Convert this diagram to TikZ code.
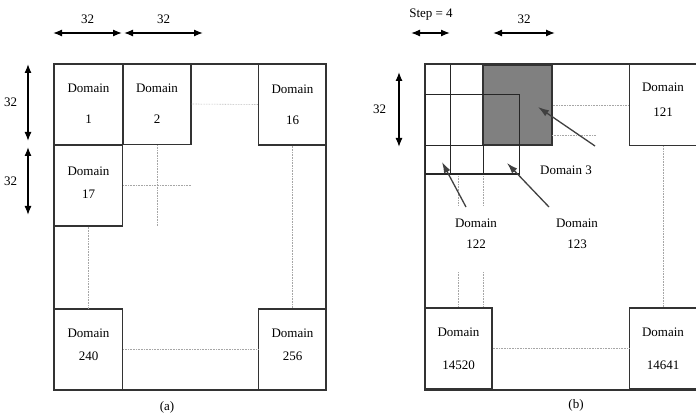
\documentclass[tikz,border=0pt]{standalone}
\usepackage{fontspec}
\setmainfont{Liberation Serif}
\usetikzlibrary{arrows.meta}
\tikzset{
  outerframe/.style={draw=black!80, line width=1.3pt},
  dombox/.style={draw=black!80, line width=1.3pt, minimum width=68pt, minimum height=81pt, inner sep=0pt, align=center},
  cellline/.style={draw=black!85, line width=0.9pt},
  dots/.style={draw=black!35, densely dotted, line width=0.6pt},
  dimarrow/.style={line width=1.3pt, {Latex[length=9pt,width=7pt]}-{Latex[length=9pt,width=7pt]}},
  pointer/.style={draw=black!75, line width=1.3pt, -{Latex[length=11pt,width=7pt]}},
  lbl/.style={inner sep=0pt, align=center}
}
\begin{document}
\begin{tikzpicture}[x=1pt, y=-1pt, font=\fontsize{13}{15}\selectfont]
\useasboundingbox (0,0) rectangle (696,414);

% (a) whole area split into domains of 32
\draw[outerframe] (54,64) rectangle (326,390);
\node[dombox] (d1) at (88.5,104) {Domain\\[16pt]1};
\node[dombox] (d2) at (157,104) {Domain\\[16pt]2};
\node[dombox] (d16) at (292.5,104.5) {Domain\\[16pt]16};
\node[dombox] (d17) at (88.5,185.5) {Domain\\[8pt]17\\[-9pt]\mbox{}};
\node[dombox] (d240) at (88.5,349.5) {Domain\\[8pt]240\\[-5pt]\mbox{}};
\node[dombox] (d256) at (292.5,349.5) {Domain\\[8pt]256\\[-5pt]\mbox{}};

\coordinate (c17) at (191,185.5);
\coordinate (c2) at (157,226);
\draw[dots] (d2.east) -- (d16.west);
\draw[dots] (d17.east) -- (c17);
\draw[dots] (d2.south) -- (c2);
\draw[dots] (d16.south) -- (d256.north);
\draw[dots] (d17.south) -- (d240.north);
\draw[dots] (d240.east) -- (d256.west);

% sizes
\coordinate (h1) at (53,33);
\coordinate (h2) at (122,33);
\coordinate (h3) at (124,33);
\coordinate (h4) at (203,33);
\draw[dimarrow] (h1) -- (h2) node[midway, above=5pt] {32};
\draw[dimarrow] (h3) -- (h4) node[midway, above=5pt] {32};
\coordinate (v1) at (28,64);
\coordinate (v2) at (28,141);
\coordinate (v3) at (28,147);
\coordinate (v4) at (28,215);
\draw[dimarrow] (v1) -- (v2) node[midway, left=7pt] {32};
\draw[dimarrow] (v3) -- (v4) node[midway, left=7pt] {32};
\node[lbl] (capa) at (167,407) {(a)};

% (b) overlapping domains, step 4
\draw[outerframe] (425,64) rectangle (697,390);
\node[dombox, fill=black!50, minimum width=69pt, minimum height=80pt] (d3) at (517.5,105) {};
\node[dombox, minimum width=67pt] (d121) at (663,105) {Domain\\[10pt]121\\[-4pt]\mbox{}};
\node[dombox, minimum width=67pt] (d14520) at (458.5,348.5) {Domain\\[18pt]14520};
\node[dombox, minimum width=67pt] (d14641) at (663,348.5) {Domain\\[18pt]14641};

% small cells
\draw[cellline] (425,94) rectangle (519,174);
\draw[cellline] (450.7,65) -- (450.7,174);
\draw[cellline] (425,145) -- (483,145);
\draw[cellline] (483,145) -- (483,174);
\draw[cellline, line width=1.5pt] (425,174) -- (519,174);

\coordinate (e1) at (552,135);
\coordinate (e2) at (596,135);
\draw[dots] (d3.east) -- (d121.west);
\draw[dots] (e1) -- (e2);
\draw[dots] (d121.south) -- (d14641.north);
\draw[dots] (d14520.east) -- (d14641.west);
\foreach \x in {458,483}{
\draw[dots] (\x,176) -- (\x,205);
\draw[dots] (\x,272) -- (\x,307);
}

\node[lbl] (l3) at (566,170) {Domain 3};
\node[lbl] (l122) at (476,234) {Domain\\[6pt]122};
\node[lbl] (l123) at (577,234) {Domain\\[6pt]123};

\coordinate (s3) at (595,146);
\coordinate (t3) at (538,107);
\coordinate (s122) at (466,207);
\coordinate (t122) at (442,162);
\coordinate (s123) at (549,207);
\coordinate (t123) at (507,163);
\draw[pointer] (s3) -- (t3);
\draw[pointer] (s122) -- (t122);
\draw[pointer] (s123) -- (t123);

\coordinate (k1) at (411,33);
\coordinate (k2) at (450,33);
\coordinate (k3) at (493,33);
\coordinate (k4) at (555,33);
\draw[dimarrow] (k1) -- (k2);
\node[lbl] (stp) at (431,15) {Step = 4};
\draw[dimarrow] (k3) -- (k4) node[midway, above=5pt] {32};
\coordinate (w1) at (399,72);
\coordinate (w2) at (399,147);
\draw[dimarrow] (w1) -- (w2) node[midway, left=9pt] {32};
\node[lbl] (capb) at (576,405) {(b)};
\end{tikzpicture}
\end{document}
